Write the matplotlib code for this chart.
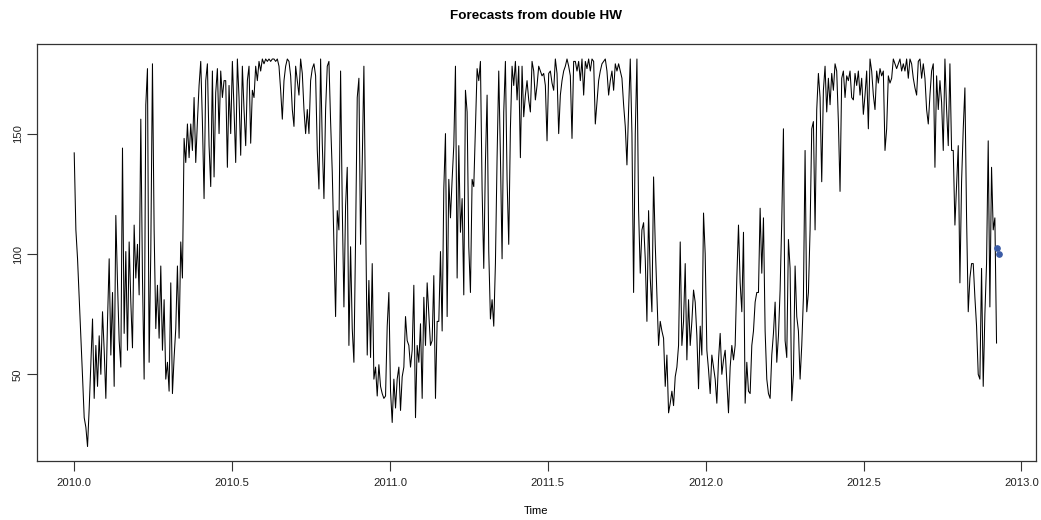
import numpy as np
import matplotlib
matplotlib.use("Agg")
import matplotlib.pyplot as plt

# series, roughly one value every two days
vals_a = [142, 110, 98, 82, 65, 49, 32, 28, 20, 36, 55, 73, 40, 62, 45, 66, 50, 76, 60, 40,
          72, 98, 58, 84, 45, 116, 88, 64, 53, 144, 67, 101, 60, 105, 80, 61, 112, 90, 104, 83,
          156, 90, 48, 162, 177, 55, 101, 179, 110, 69, 87, 65, 95, 60, 81, 48, 55, 43, 88, 42,
          57, 69, 95, 65, 105, 90, 148, 138, 154, 140, 154, 143, 165, 138, 155, 170, 180, 155, 123, 172,
          179, 145, 128, 176, 132, 167, 177, 150, 176, 165, 172]
vals_b = [172, 136, 170, 150, 180, 160, 138, 181, 165, 141, 178, 160, 145, 172, 178, 146, 168, 165, 178, 172,
          180, 176, 181, 179, 181, 180, 181, 180, 181, 181, 180, 181, 178, 168, 156, 172, 178, 181, 180, 174,
          160, 153, 178, 172, 166, 181, 175, 160, 150, 160, 150, 172, 177, 179, 174, 143, 127, 181, 146, 123,
          160, 178, 180, 155, 134, 104, 74, 118, 110, 176, 120, 78, 120, 136, 62, 103, 69, 55, 106, 165,
          173, 104, 138, 178, 118, 58, 89, 57, 96, 48, 53, 41, 54]
vals_c = [45, 42, 40, 41, 70, 84, 43, 30, 48, 36, 48, 53, 35, 49, 53, 74, 64, 62, 53, 60,
          87, 32, 62, 55, 71, 40, 82, 62, 88, 75, 62, 64, 91, 40, 72, 72, 101, 68, 127, 150,
          74, 131, 115, 131, 145, 178, 90, 145, 109, 123, 83, 168, 159, 103, 84, 131, 128, 152, 177, 172,
          180, 127, 94, 138, 166, 101, 73, 81, 70, 96, 140, 176, 141, 98, 159, 180, 131, 104, 152, 178,
          170, 180, 164, 178, 140, 178, 157, 166, 172, 164, 159, 180, 176]
vals_d = [164, 170, 178, 176, 174, 175, 170, 147, 175, 176, 171, 168, 181, 175, 150, 166, 172, 176, 178, 181,
          178, 174, 148, 180, 180, 176, 180, 172, 181, 166, 180, 177, 181, 176, 181, 180, 154, 163, 172, 176,
          179, 180, 181, 176, 166, 172, 176, 168, 179, 176, 179, 176, 173, 162, 153, 137, 160, 181, 150, 84,
          150, 181, 118, 92, 110, 113, 98, 72, 118, 90, 76, 132, 104, 83, 62, 72, 68, 65, 45, 58,
          34, 38, 43, 37, 49, 53, 62, 105, 62, 72, 96, 56, 81]
vals_e = [62, 72, 85, 80, 66, 44, 70, 58, 117, 100, 60, 52, 42, 58, 53, 48, 38, 56, 67, 50,
          56, 60, 47, 34, 53, 62, 56, 62, 90, 112, 88, 76, 109, 38, 55, 43, 42, 62, 68, 80,
          84, 84, 119, 92, 115, 68, 48, 42, 40, 58, 67, 80, 55, 66, 85, 114, 152, 64, 57, 106,
          94, 39, 50, 95, 74, 68, 48, 62, 82, 143, 76, 84, 110, 152, 155, 110, 160, 175, 165, 130,
          168, 178, 159, 173, 162, 175, 168, 179, 176, 155, 126, 173, 176]
vals_f = [165, 174, 172, 176, 165, 164, 175, 170, 176, 166, 173, 158, 166, 176, 152, 181, 176, 166, 160, 176,
          171, 177, 174, 176, 143, 152, 174, 171, 173, 181, 179, 177, 179, 181, 176, 179, 176, 181, 173, 181,
          179, 173, 169, 166, 180, 181, 173, 179, 173, 160, 154, 166, 176, 179, 136, 174, 160, 172, 163, 143,
          181, 160, 145, 179, 143, 143, 112, 128, 145, 88, 130, 152, 169, 115, 76, 90, 96, 96, 82, 70,
          50, 48, 94, 45, 75, 96, 147, 78, 136, 110, 115, 63]

t_start = 2010.0
t_end = 2012.921

# two step-ahead forecasts
fc_time = [2012.924, 2012.930]
fc_vals = [102.6, 100.0]

series = np.array(vals_a + vals_b + vals_c + vals_d + vals_e + vals_f, dtype=float)
time = np.linspace(t_start, t_end, len(series))

plt.rcParams["font.family"] = ["Liberation Sans", "DejaVu Sans"]

fig = plt.figure(figsize=(10.41, 5.2), dpi=100)
ax = fig.add_axes([0.0358, 0.1135, 0.9591, 0.8013])

ax.plot(time, series, color="black", lw=0.75)
ax.plot(fc_time, fc_vals, "o", color="#3a5ba6", ms=3.8, mec="#3a5ba6")

ax.set_xlim(2009.883, 2013.045)
ax.set_ylim(14.0, 187.1)
ax.set_xticks([2010.0, 2010.5, 2011.0, 2011.5, 2012.0, 2012.5, 2013.0])
ax.set_xticklabels(["2010.0", "2010.5", "2011.0", "2011.5", "2012.0", "2012.5", "2013.0"])
ax.set_yticks([50, 100, 150])
ax.tick_params(axis="both", labelsize=8.1, length=7, width=0.8, color="#333333",
               labelcolor="#222222", direction="out")
ax.tick_params(axis="x", pad=5)
ax.tick_params(axis="y", pad=3.5)
for lab in ax.get_yticklabels():
    lab.set_rotation(90)
    lab.set_va("center")
for sp in ax.spines.values():
    sp.set_color("#333333")
    sp.set_linewidth(0.9)

ax.set_title("Forecasts from double HW", fontsize=9.7, fontweight="bold", pad=18)
ax.set_xlabel("Time", fontsize=8.1, labelpad=13)

fig.savefig("out.png", dpi=100)
